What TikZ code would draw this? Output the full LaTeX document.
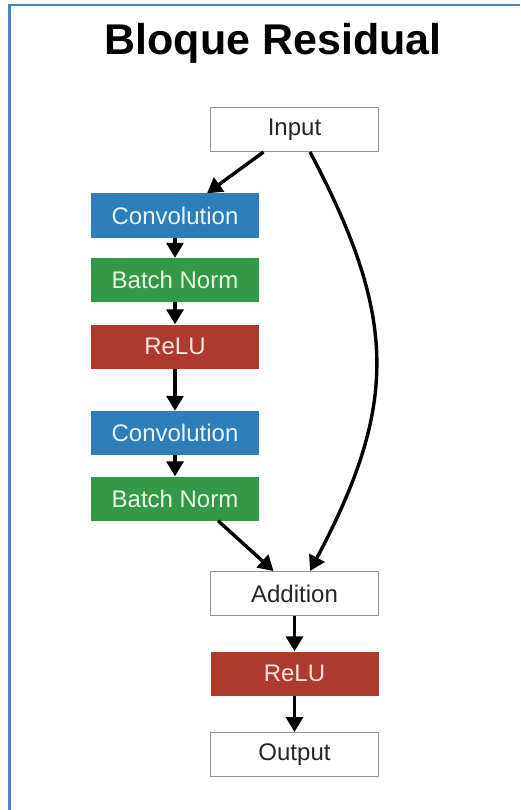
\documentclass[tikz,border=0pt]{standalone}
\usepackage{fontspec}
\setmainfont{Liberation Sans}
\usetikzlibrary{arrows.meta}

\definecolor{framecol}{RGB}{79,129,189}
\definecolor{convcol}{RGB}{46,126,186}
\definecolor{bncol}{RGB}{52,153,70}
\definecolor{relucol}{RGB}{174,58,46}
\definecolor{edgecol}{RGB}{150,150,150}

\tikzset{
  blockbox/.style={minimum width=168pt, minimum height=44pt, inner sep=0pt,
    font=\fontsize{24}{28}\selectfont},
  plainbox/.style={blockbox, draw=edgecol, line width=1pt, fill=white, text=black!85},
  convbox/.style={blockbox, fill=convcol, text={rgb,255:red,232;green,244;blue,255}},
  bnbox/.style={blockbox, fill=bncol, text={rgb,255:red,232;green,248;blue,226}},
  relubox/.style={blockbox, fill=relucol, text={rgb,255:red,250;green,228;blue,220}},
  flow/.style={line width=3.4pt, -{Triangle[length=15pt,width=17pt]}},
}

\begin{document}
\begin{tikzpicture}[x=1pt, y=-1pt]
  \useasboundingbox (0,0) rectangle (520,810);
  \fill[white] (0,0) rectangle (520,810);

  % frame edges (top and left)
  \draw[framecol, line width=2.2pt] (9.5,810) -- (9.5,5) -- (520,5);

  % title
  \node[anchor=base, font=\fontsize{43}{50}\selectfont\bfseries] (title) at (273,55) {Bloque Residual};

  % blocks
  \node[plainbox] (inp)  at (294.5,129.5) {Input};
  \node[convbox]  (c1)   at (175,215.5)   {Convolution};
  \node[bnbox]    (bn1)  at (175,280)     {Batch Norm};
  \node[relubox]  (r1)   at (175,346.5)   {ReLU};
  \node[convbox]  (c2)   at (175,433)     {Convolution};
  \node[bnbox]    (bn2)  at (175,498.5)   {Batch Norm};
  \node[plainbox] (add)  at (294.5,593.5) {Addition};
  \node[relubox]  (r2)   at (294.5,673.5) {ReLU};
  \node[plainbox] (out)  at (294.5,754.5) {Output};

  % main path
  \draw[flow] ([xshift=-31pt]inp.south) -- ([xshift=32pt]c1.north);
  \draw[flow] (c1.south) -- (bn1.north);
  \draw[flow] (bn1.south) -- (r1.north);
  \draw[flow] (r1.south) -- (c2.north);
  \draw[flow] (c2.south) -- (bn2.north);
  \draw[flow] ([xshift=43pt]bn2.south) -- ([xshift=-21pt]add.north);
  \draw[flow] (add.south) -- (r2.north);
  \draw[flow] (r2.south) -- (out.north);

  % identity shortcut
  \draw[flow] ([xshift=15.5pt]inp.south) .. controls (398,318) and (398,405) .. ([xshift=15.5pt]add.north);
\end{tikzpicture}
\end{document}
